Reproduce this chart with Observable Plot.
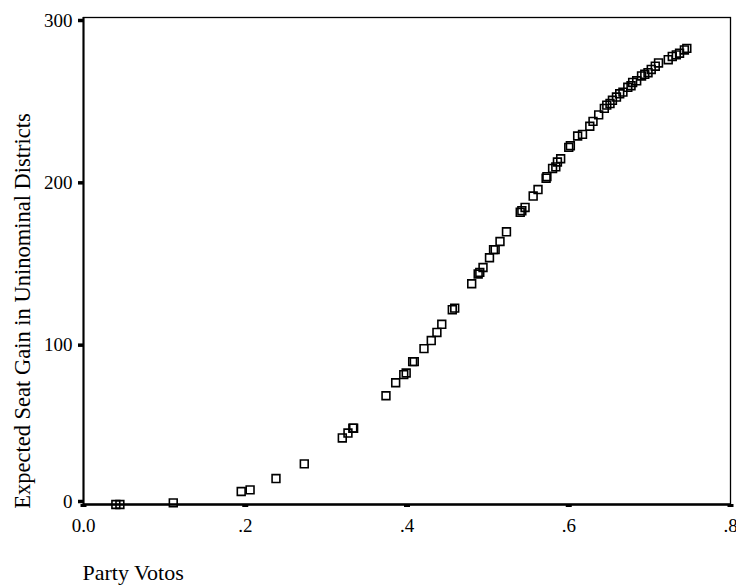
<!DOCTYPE html>
<html>
<head>
<meta charset="utf-8">
<script src="https://cdn.jsdelivr.net/npm/d3@7"></script>
<script src="https://cdn.jsdelivr.net/npm/@observablehq/plot@0.6"></script>
<style>
  html, body { margin: 0; padding: 0; background: #fff; }
</style>
</head>
<body>
<div id="chart"></div>
<script>
const partyVotes = [0.040, 0.045, 0.111, 0.195, 0.206, 0.238, 0.273, 0.320, 0.327, 0.333, 0.334,
  0.374, 0.386, 0.396, 0.399, 0.407, 0.409, 0.421, 0.430, 0.437, 0.443, 0.456, 0.459,
  0.480, 0.488, 0.490, 0.494, 0.502, 0.507, 0.509, 0.515, 0.523, 0.540, 0.542, 0.546,
  0.556, 0.562, 0.572, 0.573, 0.580, 0.584, 0.586, 0.590, 0.600, 0.602, 0.611, 0.617,
  0.626, 0.630, 0.637, 0.644, 0.647, 0.651, 0.654, 0.659, 0.663, 0.667, 0.673, 0.677,
  0.679, 0.684, 0.690, 0.694, 0.698, 0.702, 0.707, 0.711, 0.723, 0.728, 0.733, 0.737,
  0.743, 0.746];
const seatGain = [0, 0, 1, 8, 9, 16, 25, 41, 44, 47, 47,
  67, 75, 80, 81, 88, 88, 96, 101, 106, 111, 120, 121,
  136, 142, 143, 146, 152, 157, 157, 162, 168, 180, 181, 183,
  190, 194, 201, 202, 207, 208, 211, 213, 220, 221, 227, 228,
  233, 236, 240, 244, 246, 247, 249, 251, 253, 254, 257, 258,
  260, 261, 264, 265, 266, 268, 270, 272, 274, 276, 277, 278,
  280, 281];
const xTicks = [0, 0.2, 0.4, 0.6, 0.8];
const xTickLabels = ["0.0", ".2", ".4", ".6", ".8"];
const yTicksUpper = [100, 200, 300];
const yTickLabelsUpper = ["100", "200", "300"];
const yTickZero = [0];
const yTickLabelZero = ["0"];
const xTitle = "Party Votos";
const yTitle = "Expected Seat Gain in Uninominal Districts";

const points = partyVotes.map((v, i) => ({v, s: seatGain[i]}));
const serif = "'Liberation Serif', 'Times New Roman', serif";

const chart = Plot.plot({
  width: 736,
  height: 587,
  marginLeft: 83,
  marginRight: 6,
  marginTop: 17,
  marginBottom: 83,
  style: {fontFamily: serif, fontSize: "19px", color: "#000", background: "#fff"},
  x: {domain: [0, 0.8]},
  y: {domain: [0, 300]},
  marks: [
    Plot.frame({stroke: "#000", strokeWidth: 1.3}),
    Plot.ruleY([0], {stroke: "#000", strokeWidth: 2.6}),
    Plot.ruleX([0], {stroke: "#000", strokeWidth: 2}),
    Plot.axisX({ticks: xTicks, tickFormat: (d, i) => xTickLabels[i], tickSize: 3, strokeWidth: 6, tickPadding: 11, label: null, fontSize: 19, fontFamily: serif}),
    Plot.axisY({ticks: yTicksUpper, tickFormat: (d, i) => yTickLabelsUpper[i], tickSize: 5, strokeWidth: 3.5, tickPadding: 6, label: null, fontSize: 19, fontFamily: serif, dy: 3}),
    Plot.axisY({ticks: yTickZero, tickFormat: (d, i) => yTickLabelZero[i], tickSize: 5, strokeWidth: 3.5, tickPadding: 6, label: null, fontSize: 19, fontFamily: serif, dy: -3}),
    Plot.dot(points, {x: "v", y: "s", symbol: "square", r: 4.4, stroke: "#000", strokeWidth: 1.6, fill: "none"}),
    Plot.text([xTitle], {frameAnchor: "bottom-left", textAnchor: "start", lineAnchor: "middle", dx: -1, dy: 68, fontSize: 22, fontFamily: serif}),
    Plot.text([yTitle], {frameAnchor: "left", rotate: -90, textAnchor: "middle", lineAnchor: "middle", dx: -61, dy: 50, fontSize: 22.5, fontFamily: serif})
  ]
});
document.getElementById("chart").appendChild(chart);
</script>
</body>
</html>
